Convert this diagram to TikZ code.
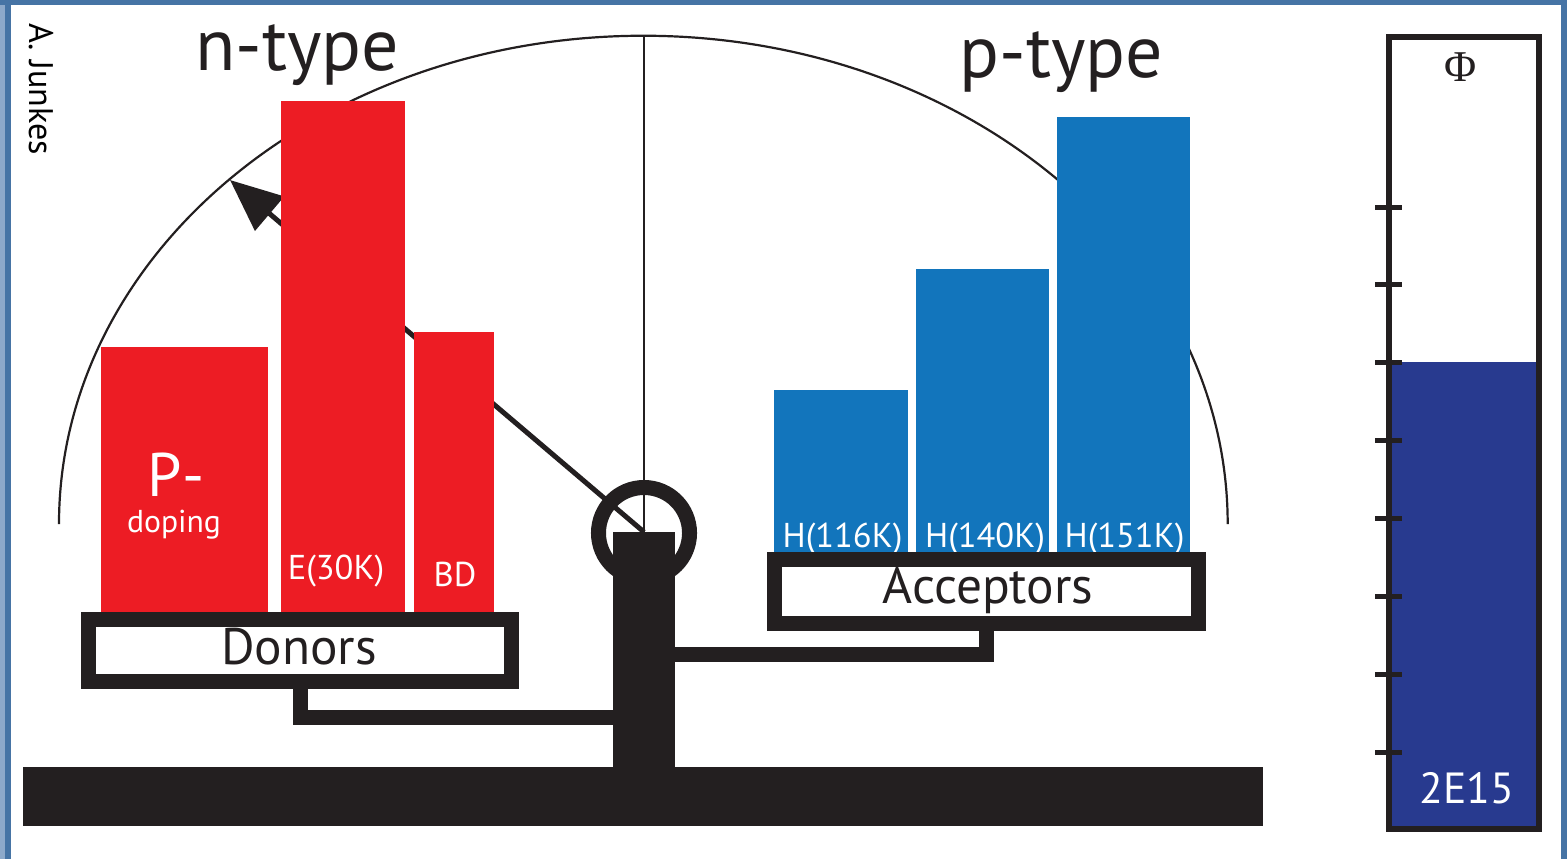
\documentclass[tikz,border=0pt]{standalone}
\usepackage{fontspec}
\setmainfont{PT Sans}
\newfontfamily\phifont{Liberation Serif}
\usetikzlibrary{arrows.meta,calc}

\definecolor{ink}{HTML}{231F20}
\definecolor{donorred}{HTML}{ED1C24}
\definecolor{acceptblue}{HTML}{1275BC}
\definecolor{fluence}{HTML}{283A8F}
\definecolor{frameblue}{HTML}{4674A5}
\definecolor{framelight}{HTML}{8DA9CA}

\newcommand{\fs}[1]{\fontsize{#1}{#1}\selectfont}

\begin{document}
\begin{tikzpicture}[x=0.01cm, y=-0.01cm,
    every node/.style={inner sep=0pt, outer sep=0pt},
    redbar/.style={fill=donorred, anchor=south west},
    bluebar/.style={fill=acceptblue, anchor=south west},
    barlabel/.style={text=white, font=\fs{9.8pt}, anchor=base},
    panel/.style={draw=ink, fill=white, line width=0.15cm},
    panellabel/.style={font=\fs{14.6pt}, text=ink, anchor=base},
    thickwire/.style={draw=ink, line width=0.15cm},
    thinline/.style={draw=ink, line width=0.022cm},
    tick/.style={draw=ink, line width=0.05cm},
    title/.style={font=\fs{21pt}, text=ink, anchor=base}]

\useasboundingbox (0,0) rectangle (1567,859);

% frame around the figure
\fill[framelight] (0,0) rectangle (5,859);
\fill[frameblue] (5,0) rectangle (11,859);
\fill[frameblue] (0,0) rectangle (1567,5);
\fill[frameblue] (1561,0) rectangle (1567,859);

% dial of the balance
\coordinate (pivot) at (644,532);
\coordinate (dialtop) at (644,36);
\coordinate (tip) at (230,180);
\draw[thinline] (59,524) arc[start angle=180, end angle=0, x radius=5.84cm, y radius=4.88cm];
\draw[thinline] (dialtop) -- (pivot);
\draw[ink, line width=0.05cm, -{Triangle[length=0.52cm, width=0.44cm]}] (pivot) -- (tip);

% donor bars
\node[redbar, minimum width=1.67cm, minimum height=2.65cm] (pdop) at (101,612) {};
\node[redbar, minimum width=1.24cm, minimum height=5.11cm] (e30) at (281,612) {};
\node[redbar, minimum width=0.80cm, minimum height=2.80cm] (bd) at (414,612) {};
\node[text=white, font=\fs{17.5pt}, anchor=base] (plabel) at (176,496) {P-};
\node[text=white, font=\fs{9pt}, anchor=base] (dlabel) at (174,532) {doping};
\node[barlabel] (elabel) at (336,579) {E(30K)};
\node[barlabel] (bdlabel) at (455,586) {BD};

% acceptor bars
\node[bluebar, minimum width=1.34cm, minimum height=1.62cm] (h116) at (774,552) {};
\node[bluebar, minimum width=1.33cm, minimum height=2.83cm] (h140) at (916,552) {};
\node[bluebar, minimum width=1.33cm, minimum height=4.35cm] (h151) at (1057,552) {};
\node[barlabel] (l116) at (842.5,547) {H(116K)};
\node[barlabel] (l140) at (985,547) {H(140K)};
\node[barlabel] (l151) at (1124.5,547) {H(151K)};

% pivot ring, post and base
\node[circle, draw=ink, line width=0.15cm, minimum size=0.91cm] (ring) at (644,533) {};
\node[fill=ink, anchor=north, minimum width=0.62cm, minimum height=2.37cm] (post) at (644,532) {};
\node[fill=ink, anchor=north west, minimum width=12.39cm, minimum height=0.59cm] (base) at (23,767) {};

% pans
\node[panel, minimum width=4.23cm, minimum height=0.62cm] (donors) at (300,650.5) {};
\node[panel, minimum width=4.24cm, minimum height=0.64cm] (acceptors) at (986.5,591.5) {};
\node[panellabel] (donorstext) at (299,664) {Donors};
\node[panellabel] (acceptorstext) at (988,603) {Acceptors};

% arms joining the pans to the post
\coordinate (donorarm) at (613,717.5);
\coordinate (acceptarm) at (675,654);
\draw[thickwire] ($(donors.south)+(0,7.5)$) |- (donorarm);
\draw[thickwire] ($(acceptors.south)+(0,7.5)$) |- (acceptarm);

% titles
\node[title] (ntype) at (297.5,70) {n-type};
\node[title] (ptype) at (1061.5,77) {p-type};
\node[rotate=-90, font=\fs{9.7pt}, text=black] (author) at (41,89) {A. Junkes};

% fluence gauge
\fill[fluence] (1389,362) rectangle (1539,829);
\node[draw=ink, line width=0.06cm, minimum width=1.50cm, minimum height=7.92cm] (gauge) at (1464,433) {};
\foreach \k in {0,...,7}
  \draw[tick] (1375,{207+77.86*\k}) -- (1402,{207+77.86*\k});
\node[font=\phifont\fs{12.5pt}, text=ink] (phi) at (1461,67.5) {Φ};
\node[text=white, font=\fs{12.4pt}] (dose) at (1467,788) {2E15};

\end{tikzpicture}
\end{document}
